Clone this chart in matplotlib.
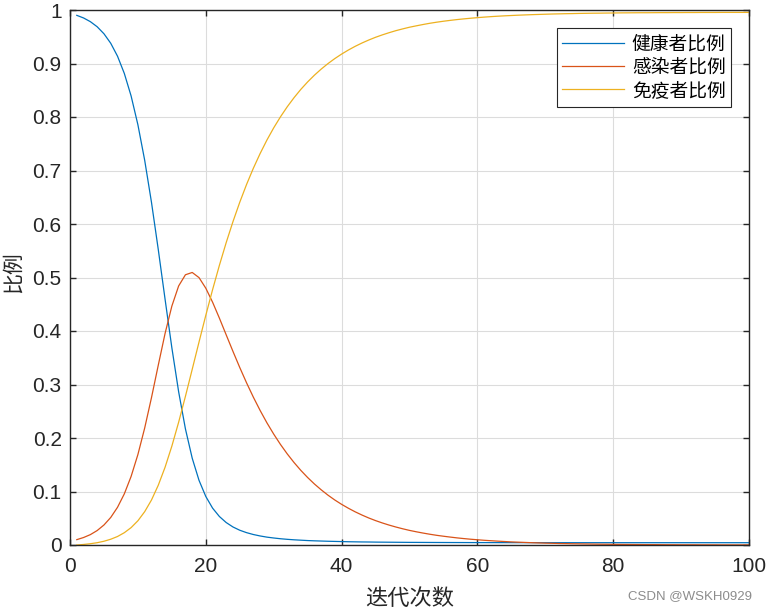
import matplotlib
matplotlib.use("Agg")
import matplotlib.pyplot as plt

plt.rcParams['font.family'] = ['Liberation Sans', 'Noto Sans CJK SC', 'DejaVu Sans']

iterations = list(range(1, 101))

healthy = [
    0.9900, 0.9851, 0.9782, 0.9687, 0.9556, 0.9378, 0.9136, 0.8814, 0.8393, 0.7855,
    0.7191, 0.6405, 0.5523, 0.4595, 0.3687, 0.2864, 0.2170, 0.1622, 0.1209, 0.0907,
    0.0689, 0.0533, 0.0420, 0.0337, 0.0276, 0.0231, 0.0196, 0.0169, 0.0147, 0.0131,
    0.0117, 0.0106, 0.0097, 0.0090, 0.0083, 0.0078, 0.0074, 0.0070, 0.0067, 0.0064,
    0.0061, 0.0059, 0.0057, 0.0056, 0.0054, 0.0053, 0.0052, 0.0051, 0.0050, 0.0049,
    0.00487, 0.00481, 0.00476, 0.00471, 0.00467, 0.00463, 0.00460, 0.00457, 0.00454, 0.00451,
    0.00449, 0.00447, 0.00445, 0.00444, 0.00442, 0.00441, 0.00440, 0.00439, 0.00438, 0.00437,
    0.00436, 0.00436, 0.00435, 0.00434, 0.00434, 0.00433, 0.00433, 0.00433, 0.00432, 0.00432,
    0.00432, 0.00432, 0.00431, 0.00431, 0.00431, 0.00431, 0.00431, 0.00431, 0.00431, 0.00431,
    0.00431, 0.00430, 0.00430, 0.00430, 0.00430, 0.00430, 0.00430, 0.00430, 0.00430, 0.00430,
]

infected = [
    0.0100, 0.0140, 0.0194, 0.0270, 0.0374, 0.0515, 0.0705, 0.0956, 0.1282, 0.1691,
    0.2187, 0.2754, 0.3361, 0.3953, 0.4465, 0.4842, 0.5051, 0.5094, 0.4998, 0.4800,
    0.4538, 0.4241, 0.3929, 0.3619, 0.3318, 0.3032, 0.2764, 0.2515, 0.2284, 0.2073,
    0.1879, 0.1702, 0.1541, 0.1394, 0.1261, 0.1140, 0.1031, 0.0931, 0.0841, 0.0760,
    0.0687, 0.0620, 0.0560, 0.0505, 0.0456, 0.0412, 0.0372, 0.0336, 0.0303, 0.0273,
    0.0247, 0.0223, 0.0201, 0.0181, 0.0164, 0.0148, 0.0133, 0.0120, 0.0108, 0.0098,
    0.0088, 0.0080, 0.0072, 0.0065, 0.0058, 0.0053, 0.0048, 0.0043, 0.0039, 0.0035,
    0.0032, 0.0028, 0.0026, 0.0023, 0.0021, 0.0019, 0.0017, 0.0015, 0.0014, 0.0012,
    0.0011, 0.0010, 0.0009, 0.0008, 0.0007, 0.0007, 0.0006, 0.0005, 0.0005, 0.0004,
    0.0004, 0.0004, 0.0003, 0.0003, 0.0003, 0.0002, 0.0002, 0.0002, 0.0002, 0.0002,
]

immune = [
    0.0000, 0.0010, 0.0024, 0.0043, 0.0070, 0.0108, 0.0159, 0.0230, 0.0325, 0.0453,
    0.0623, 0.0841, 0.1117, 0.1453, 0.1848, 0.2295, 0.2779, 0.3284, 0.3793, 0.4293,
    0.4773, 0.5227, 0.5651, 0.6044, 0.6406, 0.6738, 0.7041, 0.7317, 0.7569, 0.7797,
    0.8004, 0.8192, 0.8362, 0.8517, 0.8656, 0.8782, 0.8896, 0.8999, 0.9092, 0.9176,
    0.9252, 0.9321, 0.9383, 0.9439, 0.9490, 0.9535, 0.9576, 0.9614, 0.9647, 0.9678,
    0.9704, 0.9729, 0.9752, 0.9772, 0.9790, 0.9806, 0.9821, 0.9834, 0.9846, 0.9857,
    0.9867, 0.9876, 0.9884, 0.9891, 0.9897, 0.9903, 0.9908, 0.9913, 0.9917, 0.9921,
    0.9925, 0.9928, 0.9931, 0.9933, 0.9936, 0.9938, 0.9940, 0.9941, 0.9943, 0.9944,
    0.9946, 0.9947, 0.9948, 0.9949, 0.9949, 0.9950, 0.9951, 0.9951, 0.9952, 0.9952,
    0.9953, 0.9953, 0.9954, 0.9954, 0.9954, 0.9955, 0.9955, 0.9955, 0.9955, 0.9955,
]

series_labels = ['健康者比例', '感染者比例', '免疫者比例']
x_ticks = [0, 20, 40, 60, 80, 100]
y_ticks = [0, 0.1, 0.2, 0.3, 0.4, 0.5, 0.6, 0.7, 0.8, 0.9, 1.0]
y_tick_labels = ['0', '0.1', '0.2', '0.3', '0.4', '0.5', '0.6', '0.7', '0.8', '0.9', '1']

colors = ['#0072BD', '#D95319', '#EDB120']

fig = plt.figure(figsize=(7.68, 6.10), dpi=100)
ax = fig.add_axes([70 / 768, 65 / 610, 679 / 768, 535 / 610])

for data, label, c in zip([healthy, infected, immune], series_labels, colors):
    ax.plot(iterations, data, color=c, linewidth=0.9, label=label)

ax.set_xlim(0, 100)
ax.set_ylim(0, 1)
ax.set_xticks(x_ticks)
ax.set_xticklabels([str(t) for t in x_ticks])
ax.set_yticks(y_ticks)
ax.set_yticklabels(y_tick_labels)

ax.grid(True, color='#dcdcdc', linewidth=0.8)
ax.set_axisbelow(True)

for sp in ax.spines.values():
    sp.set_color('#262626')
    sp.set_linewidth(1.0)

ax.tick_params(direction='in', length=4.5, width=1.0, colors='#262626',
               labelsize=15, top=True, right=True, pad=6)
ax.tick_params(axis='x', pad=9)

cjk = ['Noto Sans CJK SC', 'DejaVu Sans']
ax.set_xlabel('迭代次数', fontsize=16, color='#262626', family=cjk)
ax.xaxis.label.set_verticalalignment('center')
ax.xaxis.set_label_coords(0.5, -0.1)
ax.set_ylabel('比例', fontsize=15, color='#262626', family=cjk)
ax.yaxis.label.set_verticalalignment('center')
ax.yaxis.set_label_coords(-0.085, 0.51)

leg = ax.legend(loc='upper right', frameon=True, fancybox=False,
                framealpha=1.0, edgecolor='#262626', handlelength=3.3,
                handletextpad=0.4, labelspacing=0.12, borderpad=0.3,
                borderaxespad=0.95, prop={'family': cjk, 'size': 13.5})
leg.get_frame().set_linewidth(0.8)

fig.text(752 / 768, 1 - 596 / 610, 'CSDN @WSKH0929', ha='right', va='center',
         fontsize=9.5, color='#8c8c8c')

fig.savefig('out.png', dpi=100)
